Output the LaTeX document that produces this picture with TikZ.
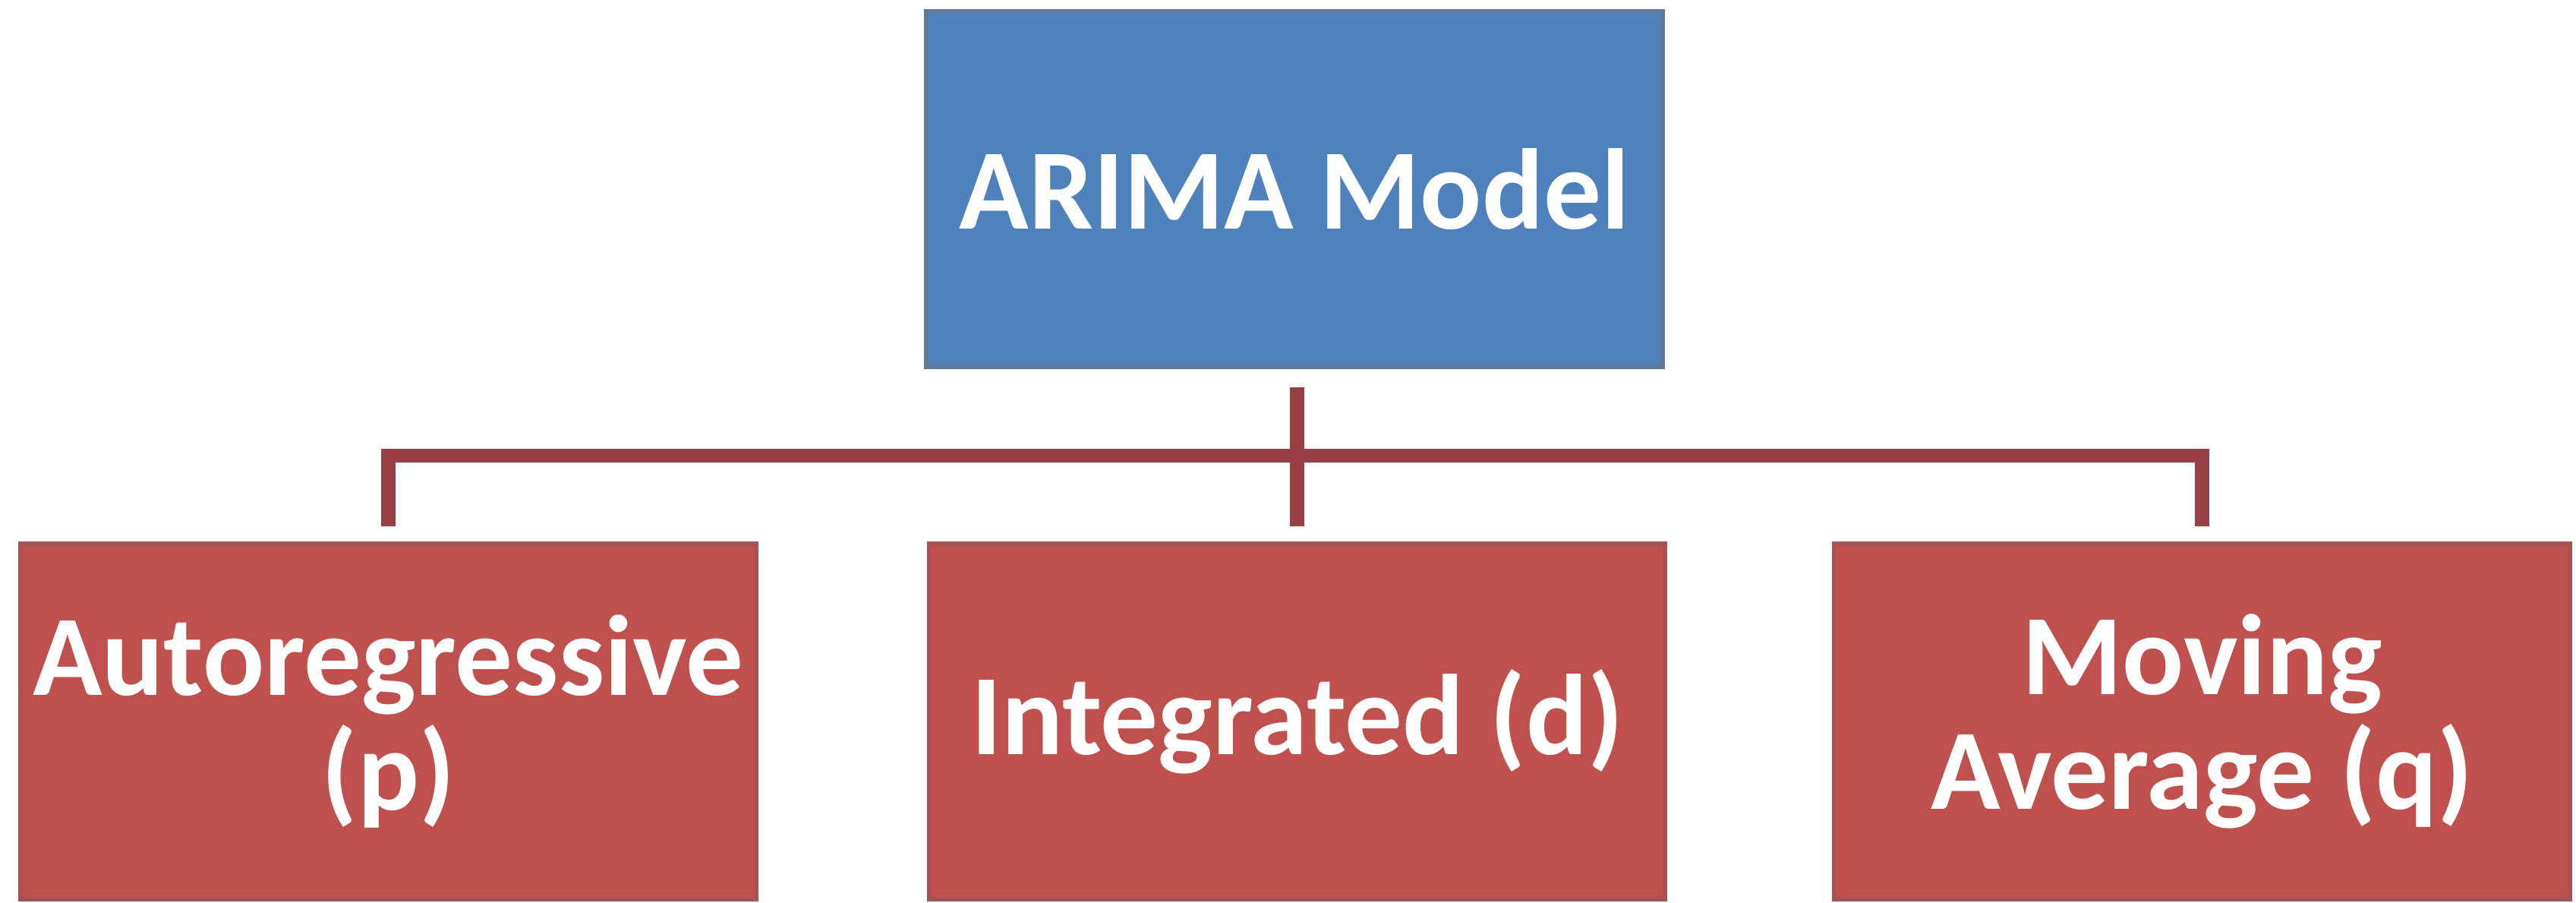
\documentclass[tikz,border=0pt]{standalone}
\usepackage{fontspec}
\setmainfont{Carlito}
\usepackage{xcolor}
\usetikzlibrary{positioning}

\definecolor{arimablue}{RGB}{79,129,189}
\definecolor{arimablueline}{RGB}{96,122,156}
\definecolor{partred}{RGB}{192,80,77}
\definecolor{partredline}{RGB}{166,82,84}
\definecolor{linkred}{RGB}{152,64,70}

\begin{document}
\begin{tikzpicture}[
    box/.style={draw, line width=1.6pt, minimum width=9.7cm, minimum height=4.68cm,
        align=center, text=white, font=\fontsize{43}{43}\selectfont\bfseries, inner sep=0pt},
    link/.style={draw=linkred, line width=5.4pt}
]
\useasboundingbox (0,0) rectangle (33.93,11.88);

% Top: the model
\node[box, fill=arimablue, draw=arimablueline] (arima) at (17.05, 9.39) {ARIMA Model};

% Bottom: its three parts
\node[box, fill=partred, draw=partredline] (ar) at (5.115, 2.38) {Autoregressive\\(p)};
\node[box, fill=partred, draw=partredline] (integ) at (17.085, 2.38) {Integrated (d)};
\node[box, fill=partred, draw=partredline] (ma) at (29.005, 2.38) {Moving\\Average (q)};

% Connectors
\coordinate (bar) at (17.08, 5.88);
\draw[link, shorten <=0.24cm, shorten >=0.2cm] (arima.south -| bar) -- (integ.north -| bar);
\draw[link, shorten <=0.2cm, shorten >=0.2cm] (ar.north) -- (ar.north |- bar) -- (ma.north |- bar) -- (ma.north);

\end{tikzpicture}
\end{document}
